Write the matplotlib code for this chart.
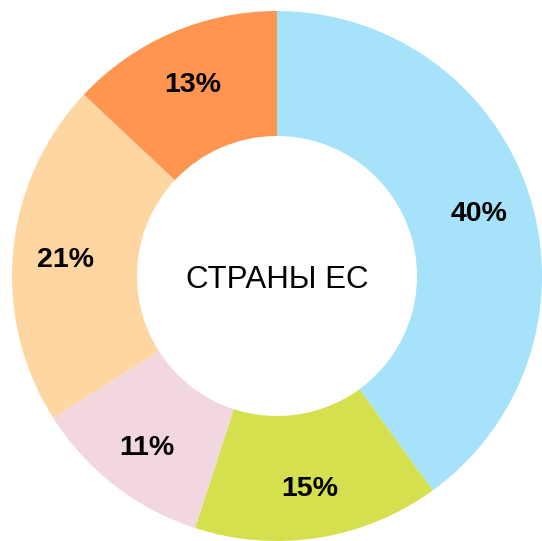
import numpy as np
import matplotlib
matplotlib.use("Agg")
import matplotlib.pyplot as plt

plt.rcParams['font.family'] = ['Liberation Sans', 'DejaVu Sans']

# shares of the donut, clockwise from 12 o'clock
values = [40, 15, 11, 21, 13]
labels = ["40%", "15%", "11%", "21%", "13%"]
colors = ["#A6E2F9", "#D5E04E", "#F2D7DE", "#FDD6A1", "#FE9651"]
center_text = "СТРАНЫ ЕС"

fig = plt.figure(figsize=(5.42, 5.41), dpi=100)
ax = fig.add_axes([0, 0, 1, 1])

R = 265.0  # outer radius in pixels, used to place the circle like the reference
cx, cy = 277.0, 265.0  # centre in pixels from left / bottom

wedges, texts = ax.pie(values, colors=colors, startangle=90, counterclock=False,
                       radius=1.0, labels=labels, labeldistance=0.80,
                       wedgeprops=dict(width=1 - 140 / 265.0, edgecolor='none'),
                       textprops=dict(fontsize=20.5, fontweight='bold', color='black',
                                      ha='center', va='center'))
for t in texts:  # labels sit a little lower in the reference
    x, y = t.get_position()
    t.set_position((x, y - 4 / R))

ax.set_xlim(-cx / R, (542 - cx) / R)
ax.set_ylim(-cy / R, (541 - cy) / R)
ax.set_aspect('equal')
ax.axis('off')

ax.text(0, -0.015, center_text, ha='center', va='center', fontsize=22.5, color='black')

fig.savefig("out.png", dpi=100)
